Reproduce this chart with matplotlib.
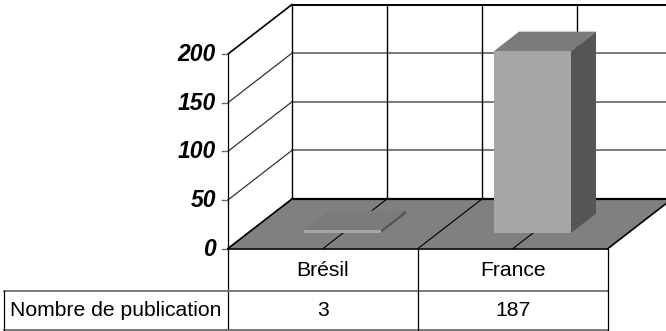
import matplotlib
matplotlib.use("Agg")
import matplotlib.pyplot as plt
from matplotlib.patches import Polygon

plt.rcParams["font.family"] = ["Liberation Sans", "DejaVu Sans"]

CATEGORIES = ["Brésil", "France"]
VALUES = [3, 187]
YTICKS = [0, 50, 100, 150, 200]
ROW_LABEL = "Nombre de publication"

W, H = 666, 331

# plot box, in pixels
X0 = 228
CAT_W = 190
Y_ZERO = 248.5
PX_PER_UNIT = 194.5 / 200
DX, DY = 64, -49.5          # depth of the box
BAR_W = 77
BAR_X_OFF = 76
BAR_FRONT = -15.5           # bar base, relative to the front floor edge
BAR_DX, BAR_DY = 25, -19.5

C_FLOOR = "#808080"
C_FRONT = "#A6A6A6"
C_TOP = "#7B7B7B"
C_SIDE = "#555555"
C_GRID = "#6E6E6E"

fig = plt.figure(figsize=(W / 100, H / 100), dpi=100)
ax = fig.add_axes([0, 0, 1, 1])
ax.set_xlim(0, W)
ax.set_ylim(H, 0)
ax.axis("off")


def to_y(v):
    return Y_ZERO - v * PX_PER_UNIT


n = len(CATEGORIES)
x_right = X0 + n * CAT_W

# walls: gridlines on side and back
for v in YTICKS:
    y = to_y(v)
    top = v == YTICKS[-1]
    ax.plot([X0, X0 + DX], [y, y + DY], color="black" if top else "#333333",
            lw=1.2 if top else 0.9, zorder=1)
    ax.plot([X0 + DX, x_right + DX], [y + DY, y + DY],
            color="black" if top or v == 0 else C_GRID,
            lw=1.4 if top or v == 0 else 1.3, zorder=1)
    ax.plot([X0 - 6, X0], [y, y], color=C_GRID, lw=1.0, zorder=1)
    ax.text(X0 - 12, y + 0.5, str(v), ha="right", va="center", fontsize=16.5,
            fontweight="bold", fontstyle="italic", color="black")

ax.plot([X0, X0], [to_y(YTICKS[-1]), H - 1], color="black", lw=0.9, zorder=1)
ax.plot([X0 + DX, X0 + DX], [to_y(YTICKS[-1]) + DY, Y_ZERO + DY], color="black", lw=1.0, zorder=1)
for i in range(n * 2):
    x = X0 + DX + (i + 1) * CAT_W / 2
    ax.plot([x, x], [to_y(YTICKS[-1]) + DY, Y_ZERO + DY], color="black", lw=1.0, zorder=1)

# floor
ax.add_patch(Polygon([(X0, Y_ZERO), (x_right, Y_ZERO), (x_right + DX, Y_ZERO + DY), (X0 + DX, Y_ZERO + DY)],
                     closed=True, fc=C_FLOOR, ec="none", zorder=2))
ax.plot([X0, X0 + DX], [Y_ZERO, Y_ZERO + DY], color="black", lw=1.2, zorder=3)
ax.plot([x_right, x_right + DX], [Y_ZERO, Y_ZERO + DY], color="black", lw=1.2, zorder=3)
ax.plot([X0 + DX, x_right + DX], [Y_ZERO + DY, Y_ZERO + DY], color="black", lw=1.6, zorder=3)
for i in range(n * 2 - 1):
    x = X0 + (i + 1) * CAT_W / 2
    ax.plot([x, x + DX], [Y_ZERO, Y_ZERO + DY], color="black", lw=0.8, zorder=3)

# bars
for i, v in enumerate(VALUES):
    xl = X0 + i * CAT_W + BAR_X_OFF
    xr = xl + BAR_W
    yb = Y_ZERO + BAR_FRONT
    yt = yb - v * PX_PER_UNIT
    ax.add_patch(Polygon([(xl, yt), (xr, yt), (xr + BAR_DX, yt + BAR_DY), (xl + BAR_DX, yt + BAR_DY)],
                         closed=True, fc=C_TOP, ec="none", zorder=4))
    ax.add_patch(Polygon([(xr, yt), (xr + BAR_DX, yt + BAR_DY), (xr + BAR_DX, yb + BAR_DY), (xr, yb)],
                         closed=True, fc=C_SIDE, ec="none", zorder=4))
    ax.add_patch(Polygon([(xl, yt), (xr, yt), (xr, yb), (xl, yb)],
                         closed=True, fc=C_FRONT, ec="none", zorder=4))

# data table
ROW1, ROW2, ROW3 = Y_ZERO, 290.5, 330
ax.plot([X0, x_right], [ROW1, ROW1], color="black", lw=1.2, zorder=5)
ax.plot([4, x_right], [ROW2, ROW2], color=C_GRID, lw=1.3, zorder=5)
ax.plot([4, x_right], [ROW3, ROW3], color=C_GRID, lw=1.3, zorder=5)
ax.plot([4, 4], [ROW2, ROW3], color="black", lw=0.9, zorder=5)
for i in range(1, n + 1):
    x = X0 + i * CAT_W
    ax.plot([x, x], [ROW1, ROW3], color="black", lw=0.9, zorder=5)

ax.text((4 + X0) / 2, (ROW2 + ROW3) / 2, ROW_LABEL, ha="center", va="center", fontsize=15.2)
for i, (c, v) in enumerate(zip(CATEGORIES, VALUES)):
    xc = X0 + (i + 0.5) * CAT_W
    ax.text(xc, (ROW1 + ROW2) / 2 + 0.5, c, ha="center", va="center", fontsize=15.2)
    ax.text(xc, (ROW2 + ROW3) / 2, str(v), ha="center", va="center", fontsize=15.2)

fig.savefig("out.png", dpi=100)
